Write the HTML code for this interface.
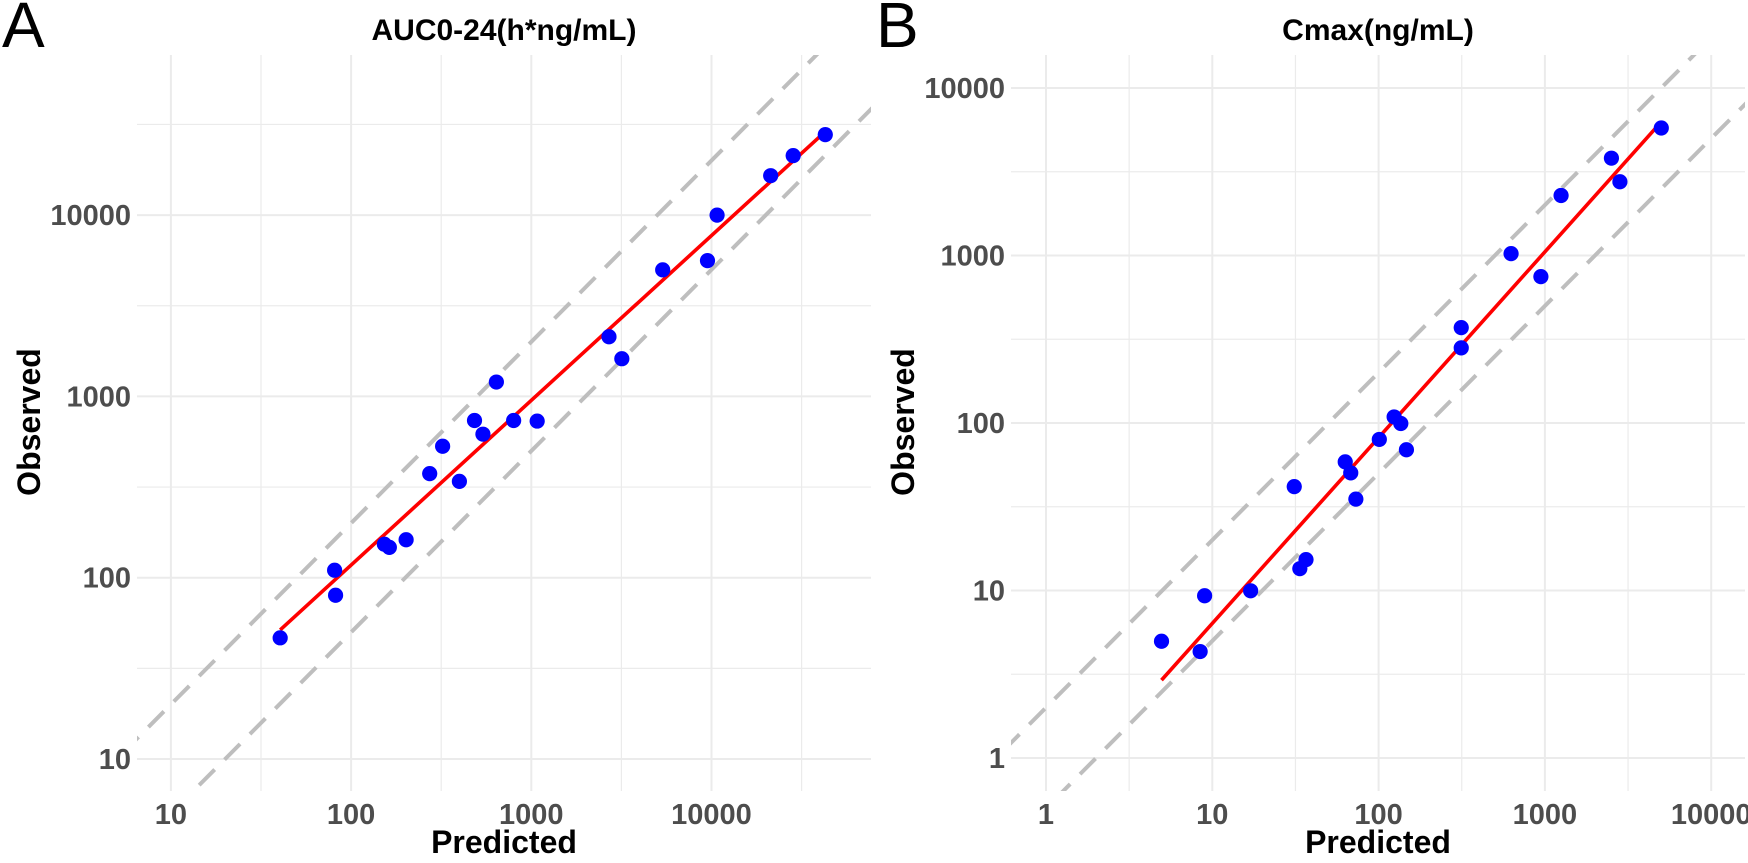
<!DOCTYPE html>
<html><head><meta charset="utf-8"><style>
html,body{margin:0;padding:0;background:#fff;overflow:hidden}
svg{display:block}
text{font-family:"Liberation Sans",Arial,sans-serif}
</style></head><body>
<svg id="chart" width="1748" height="863" xmlns="http://www.w3.org/2000/svg"></svg>
<script>
// Panel A: AUC0-24
const aucPredicted = [40.4,81,82,153,163,202,273,322,399,484,539,640,798,1078,2698,3180,5360,9500,10740,21300,28400,42800];
const aucObserved  = [46.6,110,80,153,147,162,375,531,340,736,619,1200,736,731,2134,1614,4990,5610,10000,16500,21300,27800];
const aucTicksX = [10,100,1000,10000];
const aucTicksY = [10,100,1000,10000];
// Panel B: Cmax
const cmaxPredicted = [4.95,8.45,8.99,17.0,31.1,33.6,36.6,63,68,73,101,124,136,147,314,314,626,946,1251,2512,2825,5010];
const cmaxObserved  = [4.98,4.32,9.3,9.96,41.7,13.5,15.3,58.6,50.4,35.1,79.8,108.7,99.3,69.2,371,281,1026,748,2282,3811,2755,5770];
const cmaxTicksX = [1,10,100,1000,10000];
const cmaxTicksY = [1,10,100,1000,10000];
const foldLines = [2, 0.5];

const NS="http://www.w3.org/2000/svg";
const svg=document.getElementById('chart');
function mk(tag,attrs,parent){const e=document.createElementNS(NS,tag);for(const k in attrs)e.setAttribute(k,attrs[k]);(parent||svg).appendChild(e);return e;}

function panel(cfg){
  const g=mk('g',{});
  
  
  const L=cfg.left,R=cfg.right,T=55,B=791;
  const sx=v=>cfg.x0+(Math.log10(v)-cfg.xl0)*cfg.xdec;
  const sy=v=>cfg.y0-(Math.log10(v)-cfg.yl0)*cfg.ydec;
  const lxMin=cfg.xl0-(cfg.x0-L)/cfg.xdec, lxMax=cfg.xl0+(R-cfg.x0)/cfg.xdec;
  const lyMin=cfg.yl0-(B-cfg.y0)/cfg.ydec, lyMax=cfg.yl0+(cfg.y0-T)/cfg.ydec;
  for(let e=Math.floor(lxMin*2)/2;e<=lxMax;e+=0.5){ if(e<lxMin)continue;
    const x=sx(Math.pow(10,e)); const major=Math.abs(e-Math.round(e))<1e-6;
    const l=mk('line',{x1:x,x2:x,y1:T,y2:B,stroke:'#ebebeb','stroke-width':major?2:1.2},g);
    
    }
  for(let e=Math.floor(lyMin*2)/2;e<=lyMax;e+=0.5){ if(e<lyMin)continue;
    const y=sy(Math.pow(10,e)); const major=Math.abs(e-Math.round(e))<1e-6;
    const l=mk('line',{x1:L,x2:R,y1:y,y2:y,stroke:'#ebebeb','stroke-width':major?2:1.2},g);
    
    }
  cfg.ticksX.forEach(v=>{const t=mk('text',{x:sx(v),y:824,'text-anchor':'middle','font-size':29,'font-weight':'bold',fill:'#4d4d4d'},g);t.textContent=v;
    
    });
  cfg.ticksY.forEach(v=>{const t=mk('text',{x:cfg.left-6,y:sy(v)+10,'text-anchor':'end','font-size':29,'font-weight':'bold',fill:'#4d4d4d'},g);t.textContent=v;
    
    });
  const cid='clip-'+cfg.name;
  const cp=mk('clipPath',{id:cid},g); mk('rect',{x:L,y:T,width:R-L,height:B-T},cp);
  const pg=mk('g',{'clip-path':'url(#'+cid+')'},g);
  foldLines.forEach(f=>{
    const a=Math.pow(10,lxMin-0.5), b=Math.pow(10,lxMax+0.5);
    const l=mk('line',{x1:sx(a),y1:sy(a*f),x2:sx(b),y2:sy(b*f),stroke:'#bebebe','stroke-width':4,'stroke-dasharray':'22,14'},pg);
    
    
  });
  const X=cfg.px.map(Math.log10),Y=cfg.py.map(Math.log10),n=X.length;
  const mx=X.reduce((a,b)=>a+b)/n,my=Y.reduce((a,b)=>a+b)/n;
  let sxy=0,sxx=0;for(let i=0;i<n;i++){sxy+=(X[i]-mx)*(Y[i]-my);sxx+=(X[i]-mx)**2;}
  const slope=sxy/sxx,ic=my-slope*mx;
  const xa=Math.min(...X),xb=Math.max(...X);
  const rl=mk('line',{x1:sx(Math.pow(10,xa)),y1:sy(Math.pow(10,ic+slope*xa)),x2:sx(Math.pow(10,xb)),y2:sy(Math.pow(10,ic+slope*xb)),stroke:'#ff0000','stroke-width':3.6},pg);
  
  
  for(let i=0;i<n;i++){
    const c=mk('circle',{cx:sx(cfg.px[i]),cy:sy(cfg.py[i]),r:7.6,fill:'#0000ff'},pg);
    
    
  }
  const cx=(L+R)/2;
  const tt=mk('text',{x:cx,y:40,'text-anchor':'middle','font-size':30,'font-weight':'bold',fill:'#000'},g);tt.textContent=cfg.title;
  
  
  const xt=mk('text',{x:cx,y:853,'text-anchor':'middle','font-size':32,'font-weight':'bold',fill:'#000'},g);xt.textContent='Predicted';
  
  
  const yx=cfg.letterX+40;
  const yt=mk('text',{x:yx,y:422,'text-anchor':'middle','font-size':32,'font-weight':'bold',fill:'#000',transform:'rotate(-90 '+yx+' 422)'},g);yt.textContent='Observed';
  
  
  const lt=mk('text',{x:cfg.letterX+2,y:47,'font-size':64,fill:'#000'},g);lt.textContent=cfg.letter;
  
  
}

panel({name:'panel-auc',left:137,right:871,x0:170.9,xl0:1,xdec:180.2,y0:759,yl0:1,ydec:181.3,
  px:aucPredicted,py:aucObserved,ticksX:aucTicksX,ticksY:aucTicksY,title:'AUC0-24(h*ng/mL)',letter:'A',letterX:0});
panel({name:'panel-cmax',left:1011,right:1745,x0:1046,xl0:0,xdec:166.3,y0:758,yl0:0,ydec:167.5,
  px:cmaxPredicted,py:cmaxObserved,ticksX:cmaxTicksX,ticksY:cmaxTicksY,title:'Cmax(ng/mL)',letter:'B',letterX:874});
</script>
</body></html>
